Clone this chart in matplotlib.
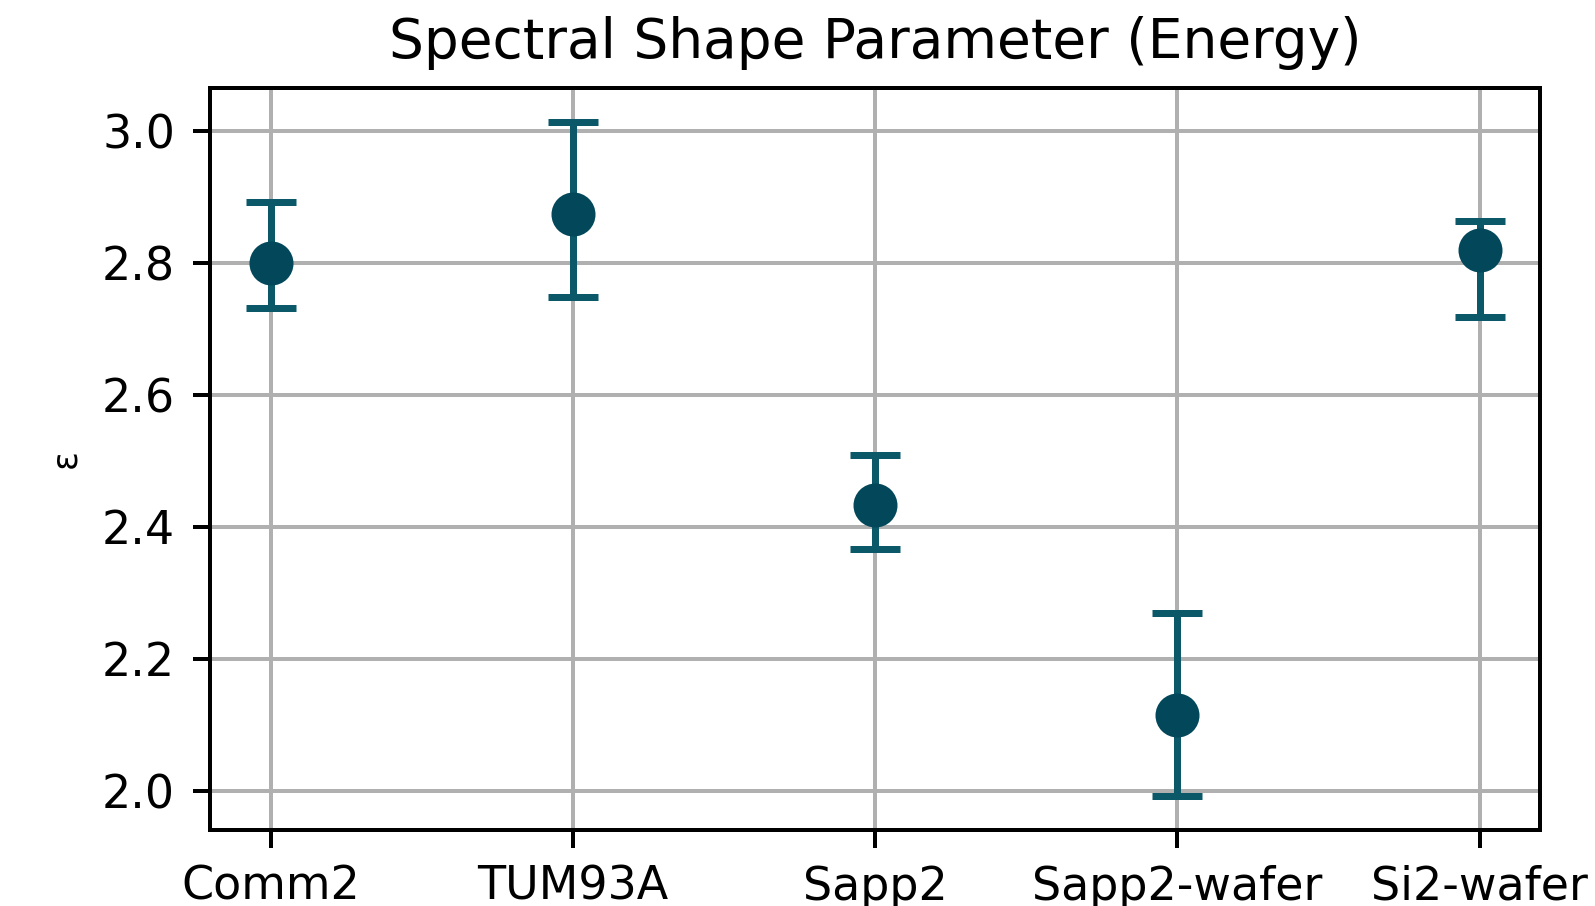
import numpy as np
from matplotlib import pyplot as plt

# data
samples = ['Comm2', 'TUM93A', 'Sapp2', 'Sapp2-wafer', 'Si2-wafer']
eps = [2.800, 2.874, 2.434, 2.115, 2.820]
err_low = [0.068, 0.126, 0.068, 0.123, 0.102]
err_high = [0.093, 0.140, 0.075, 0.155, 0.044]

fig = plt.figure(figsize=(1595 / 360, 906 / 360), dpi=360)
ax = fig.add_axes([0.1317, 0.0839, 0.8338, 0.8190])

x = np.arange(len(samples))
ax.errorbar(x, eps, yerr=[err_low, err_high], fmt='o', color='#02485a',
            ecolor='#0a5868', markersize=7.8, capsize=5, elinewidth=1.4,
            capthick=1.4)

ax.set_xticks(x)
ax.set_xticklabels(samples)
ax.tick_params(labelsize=9.2)
ax.set_ylabel('ε', fontsize=7)
ax.set_title('Spectral Shape Parameter (Energy)', fontsize=11)
ax.grid(True)
ax.set_axisbelow(True)

fig.savefig('out.png', dpi=360)
